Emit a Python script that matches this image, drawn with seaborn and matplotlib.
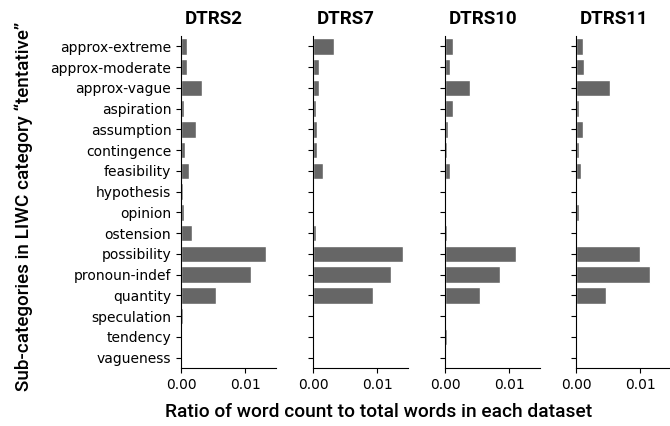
import pandas as pd
import seaborn as sns
import matplotlib.pyplot as plt

categories = ['approx-extreme', 'approx-moderate', 'approx-vague', 'aspiration',
              'assumption', 'contingence', 'feasibility', 'hypothesis', 'opinion',
              'ostension', 'possibility', 'pronoun-indef', 'quantity', 'speculation',
              'tendency', 'vagueness']
datasets = ['DTRS2', 'DTRS7', 'DTRS10', 'DTRS11']

dtrs2 = [0.00087, 0.00087, 0.0032, 0.0004, 0.0024, 0.00057, 0.0013, 0.00026, 0.0004,
         0.00164, 0.0132, 0.0109, 0.0055, 0.00026, 0.00005, 0.00005]
dtrs7 = [0.0032, 0.00099, 0.00099, 0.00052, 0.00068, 0.00068, 0.0016, 0.0001, 0.0002,
         0.0005, 0.0141, 0.0122, 0.0094, 0.0002, 0.0002, 0.0001]
dtrs10 = [0.00124, 0.00077, 0.0039, 0.00124, 0.00046, 0.0003, 0.00077, 0.0, 0.00015,
          0.0003, 0.011, 0.0085, 0.0054, 0.0, 0.0003, 0.0]
dtrs11 = [0.00113, 0.0013, 0.0053, 0.0005, 0.0011, 0.0004, 0.0008, 0.0, 0.0004,
          0.0002, 0.0099, 0.0116, 0.0047, 0.0, 0.0, 0.0]

values = {'DTRS2': dtrs2, 'DTRS7': dtrs7, 'DTRS10': dtrs10, 'DTRS11': dtrs11}
df = pd.concat([pd.DataFrame({'category': categories, 'ratio': v, 'dataset': k})
                for k, v in values.items()])

sns.set_style('ticks', {'text.color': 'black', 'axes.labelcolor': 'black',
                        'xtick.color': 'black', 'ytick.color': 'black',
                        'axes.edgecolor': 'black'})
plt.rcParams['font.family'] = ['DejaVu Sans']

fig, axes = plt.subplots(1, 4, figsize=(6.7, 4.26), dpi=100, sharex=True, sharey=True)

lefts = [181, 313, 445, 576]
for ax, name, l in zip(axes, datasets, lefts):
    sub = df[df.dataset == name]
    sns.barplot(data=sub, x='ratio', y='category', order=categories,
                color='#666666', saturation=1, ax=ax)
    ax.set_title(name, family='Roboto', fontweight='bold', fontsize=13.5,
                 loc='left', x=0.035, pad=9)
    ax.set_xlabel('')
    ax.set_ylabel('')
    ax.set_position([l / 670, 58 / 426, 95 / 670, 332 / 426])
    ax.tick_params(labelsize=10)
    sns.despine(ax=ax)

axes[0].set_ylabel('Sub-categories in LIWC category \u201ctentative\u201d',
                   family='Roboto', fontweight='medium', fontsize=13.6)
axes[0].yaxis.set_label_coords(-1.56, 0.486)
fig.text(0.565, 0.02, 'Ratio of word count to total words in each dataset',
         family='Roboto', fontweight='medium', fontsize=13.8, ha='center')

plt.savefig('out.png', dpi=100)
